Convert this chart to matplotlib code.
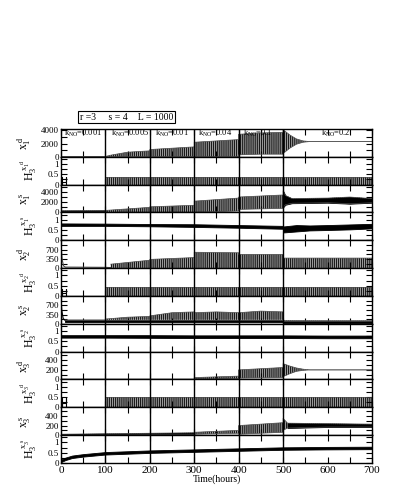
import numpy as np
import matplotlib.pyplot as plt
from matplotlib.ticker import MultipleLocator

plt.rcParams['font.family'] = ['Liberation Serif', 'DejaVu Serif']
plt.rcParams['mathtext.fontset'] = 'custom'
plt.rcParams['mathtext.rm'] = 'Liberation Serif'
plt.rcParams['mathtext.it'] = 'Liberation Serif:italic'
plt.rcParams['hatch.linewidth'] = 0.9

# ---- data (envelopes of the traces) ----
# panel 1: x1^d
t1d = [0, 100, 112, 150, 200, 200, 250, 300, 300, 350, 400, 400, 450, 500, 500, 515, 530, 545, 560, 700]
lo1d = [20, 50, 30, 20, 20, 40, 40, 40, 30, 30, 30, 300, 400, 400, 500, 1300, 1900, 2200, 2300, 2300]
hi1d = [20, 50, 250, 700, 900, 1100, 1300, 1500, 2200, 2400, 2600, 3400, 3600, 3700, 4100, 3300, 2700, 2400, 2300, 2300]

# panel 3: x1^s
t1s = [0, 100, 100, 200, 200, 300, 300, 400, 400, 500, 500, 505, 520, 600, 650, 700]
lo1s = [80, 100, 50, 50, 50, 50, 50, 300, 600, 800, 1000, 1500, 1800, 1900, 1700, 1900]
hi1s = [350, 400, 400, 1000, 1100, 1400, 2200, 2800, 3000, 3400, 4200, 3300, 2700, 2800, 3000, 2700]

# panel 5: x2^d
t2d_start = [0, 1, 3, 6, 10, 100, 112]
y2d_start = [1000, 700, 300, 80, 40, 30, 20]
t2d = [112, 200, 200, 300, 300, 400, 400, 500, 500, 700]
lo2d = [10, 10, 10, 10, 10, 10, 10, 10, 10, 10]
hi2d = [150, 300, 330, 400, 600, 580, 520, 520, 380, 380]

# panel 7: x2^s
t2s_start = [0, 2, 5, 10]
y2s_start = [1000, 500, 200, 120]
t2s = [10, 100, 100, 150, 200, 200, 250, 300, 300, 350, 400, 400, 450, 500, 500, 600, 700]
lo2s = [60, 60, 60, 60, 60, 60, 60, 60, 60, 60, 60, 60, 60, 60, 40, 40, 40]
mid2s = [150, 150, 150, 150, 150, 150, 150, 150, 150, 150, 150, 150, 150, 150, 110, 110, 110]
hi2s = [150, 150, 180, 250, 280, 300, 420, 450, 420, 450, 420, 420, 480, 450, 130, 120, 120]

# panel 9: x3^d
t3d = [0, 300, 300, 400, 400, 500, 500, 515, 530, 545, 560, 700]
lo3d = [5, 5, 10, 20, 30, 40, 60, 120, 170, 190, 200, 200]
hi3d = [5, 5, 40, 70, 200, 250, 330, 280, 240, 215, 200, 200]

# panel 11: x3^s
t3s = [0, 100, 200, 300, 300, 400, 400, 500, 500, 510, 600, 700]
lo3s = [0, 5, 10, 15, 20, 40, 20, 60, 100, 150, 170, 170]
hi3s = [20, 30, 40, 50, 60, 100, 200, 260, 350, 250, 240, 230]

# H panels of the stochastic runs (noisy lines)
tH1s = [0, 100, 200, 300, 400, 500, 500, 530, 560, 600, 650, 700]
loH1s = [0.70, 0.70, 0.68, 0.65, 0.61, 0.56, 0.38, 0.43, 0.48, 0.50, 0.53, 0.58]
hiH1s = [0.82, 0.81, 0.79, 0.78, 0.74, 0.70, 0.67, 0.74, 0.72, 0.74, 0.77, 0.80]

tH2s = [0, 100, 200, 300, 400, 500, 600, 700]
loH2s = [0.68, 0.68, 0.67, 0.66, 0.66, 0.66, 0.65, 0.65]
hiH2s = [0.80, 0.80, 0.80, 0.79, 0.79, 0.79, 0.78, 0.78]

tH3s = [0, 10, 25, 50, 100, 200, 300, 400, 500, 600, 700]
loH3s = [0.04, 0.14, 0.24, 0.31, 0.41, 0.49, 0.54, 0.59, 0.64, 0.66, 0.67]
hiH3s = [0.16, 0.26, 0.36, 0.43, 0.53, 0.61, 0.66, 0.71, 0.76, 0.78, 0.79]

# H panels of the deterministic runs: small start pulse, then stripes
tHd_start = [0, 1.5, 1.5, 1.5, 12, 12, 12, 100]
yH1d_start = [0.35, 0.35, 0, 0.15, 0.15, 0.35, 0, 0]
yH3d_start = [0.45, 0.45, 0, 0.2, 0.2, 0.45, 0, 0]
tHd = [100, 700]
hiH1d = [0.38, 0.38]
hiH2d = [0.42, 0.42]
hiH3d = [0.50, 0.50]

ylabels = [r'$\mathrm{x_1^{\ d}}$', r'$\mathrm{H_3^{\ x_1^{\ d}}}$',
           r'$\mathrm{x_1^{\ s}}$', r'$\mathrm{H_3^{\ x_1^{\ s}}}$',
           r'$\mathrm{x_2^{\ d}}$', r'$\mathrm{H_3^{\ x_2^{\ d}}}$',
           r'$\mathrm{x_2^{\ s}}$', r'$\mathrm{H_3^{\ x_2^{\ s}}}$',
           r'$\mathrm{x_3^{\ d}}$', r'$\mathrm{H_3^{\ x_3^{\ d}}}$',
           r'$\mathrm{x_3^{\ s}}$', r'$\mathrm{H_3^{\ x_3^{\ s}}}$']
ymax = [4200, 1.35, 5400, 1.35, 1050, 1.35, 1050, 1.35, 580, 1.35, 580, 1.35]
ymajor = [2000, 0.5, 2000, 0.5, 350, 0.5, 350, 0.5, 200, 0.5, 200, 0.5]
yticks = [[0, 2000, 4000], [0, 0.5, 1], [0, 2000, 4000], [0, 0.5, 1],
          [0, 350, 700], [0, 0.5, 1], [0, 350, 700], [0, 0.5, 1],
          [0, 200, 400], [0, 0.5, 1], [0, 200, 400], [0, 0.5, 1]]
yticklabels = [['0', '2000', '4000'], ['0', '0.5', '1']] * 2 + \
              [['0', '350', '700'], ['0', '0.5', '1']] * 2 + \
              [['0', '200', '400'], ['0', '0.5', '1']] * 2

knames = ['0.001', '0.005', '0.01', '0.04', '0.1', '0.2']
kpos = [6, 112, 212, 308, 410, 585]


def osc(ax, t, lo, hi):
    ax.fill_between(t, lo, hi, facecolor='0.7', hatch='|' * 8,
                    edgecolor='0.1', linewidth=0)
    ax.plot(t, hi, color='0.3', lw=0.5)
    ax.plot(t, lo, color='0.3', lw=0.5)


def noise(ax, t, lo, hi):
    ax.fill_between(t, lo, hi, color='black', linewidth=0.6)


fig = plt.figure(figsize=(4.09, 4.98), dpi=100)
axes = fig.subplots(12, 1, sharex=True)
fig.subplots_adjust(left=0.149, right=0.9095, bottom=0.0703, top=0.741, hspace=0)

a = axes
osc(a[0], t1d, lo1d, hi1d)
a[1].plot(tHd_start, yH1d_start, color='black', lw=0.8)
osc(a[1], tHd, [0, 0], hiH1d)
osc(a[2], t1s, lo1s, hi1s)
noise(a[2], t1s[:2], lo1s[:2], hi1s[:2])
noise(a[2], t1s[10:], lo1s[10:], hi1s[10:])
noise(a[3], tH1s, loH1s, hiH1s)
a[4].plot(t2d_start, y2d_start, color='0.3', lw=0.8)
osc(a[4], t2d, lo2d, hi2d)
a[5].plot(tHd_start, yH1d_start, color='black', lw=0.8)
osc(a[5], tHd, [0, 0], hiH2d)
a[6].plot(t2s_start, y2s_start, color='black', lw=0.8)
osc(a[6], t2s, mid2s, hi2s)
noise(a[6], t2s, lo2s, mid2s)
noise(a[7], tH2s, loH2s, hiH2s)
osc(a[8], t3d, lo3d, hi3d)
a[9].plot(tHd_start, yH3d_start, color='black', lw=0.8)
osc(a[9], tHd, [0, 0], hiH3d)
osc(a[10], t3s, lo3s, hi3s)
noise(a[10], t3s[:4], lo3s[:4], hi3s[:4])
noise(a[10], t3s[9:], lo3s[9:], hi3s[9:])
noise(a[11], tH3s, loH3s, hiH3s)

for i, ax in enumerate(axes):
    ax.set_xlim(0, 700)
    ax.set_ylim(0, ymax[i])
    ax.set_yticks(yticks[i])
    ax.set_yticklabels(yticklabels[i])
    ax.yaxis.set_minor_locator(MultipleLocator(ymajor[i] / 2))
    ax.xaxis.set_major_locator(MultipleLocator(100))
    ax.xaxis.set_minor_locator(MultipleLocator(50))
    ax.tick_params(which='both', direction='in', top=True, right=True,
                   labelsize=6.5, pad=1.5, length=4, width=0.8)
    for x in [100, 200, 300, 400, 500]:
        ax.axvline(x, color='black', lw=1.0)
    for s in ax.spines.values():
        s.set_linewidth(1.0)
    ax.set_ylabel(ylabels[i], fontsize=8.5, labelpad=0)
    ax.yaxis.set_label_coords(-0.072 if i % 2 else -0.09, 0.5)

for k, x in zip(knames, kpos):
    axes[0].text(x, 3150, r'k$_{\mathrm{NO}}$=' + k, fontsize=6)

axes[-1].tick_params(axis='x', labelsize=8, pad=2)
axes[-1].set_xlabel('Time(hours)', fontsize=7, labelpad=0)

fig.text(0.195, 0.765, 'r =3     s = 4    L = 1000', fontsize=7, va='center',
         bbox=dict(boxstyle='square,pad=0.15', facecolor='white', edgecolor='black', lw=0.8))

plt.savefig('out.png', dpi=100)
